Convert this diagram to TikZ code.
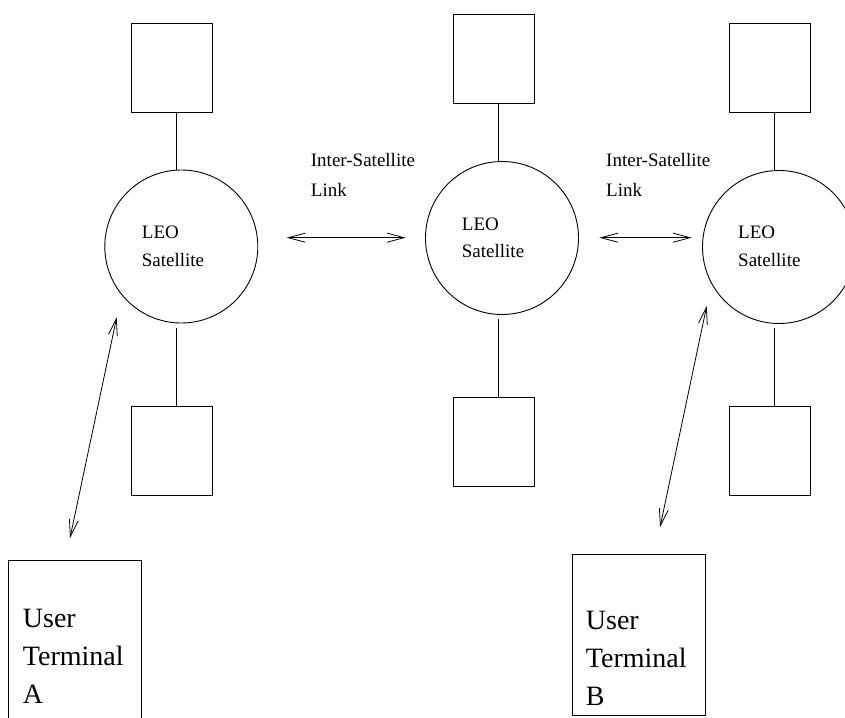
\documentclass[tikz,border=0pt]{standalone}
\usepackage{fontspec}
\setmainfont{Liberation Serif}
\usetikzlibrary{arrows.meta}
\begin{document}
\begin{tikzpicture}[x=1pt,y=-1pt,
  sbox/.style={draw,line width=0.9pt,minimum width=81pt,minimum height=89pt,inner sep=0pt,outer sep=0pt},
  sat/.style={draw,circle,line width=0.9pt,minimum size=153pt,inner sep=0pt,outer sep=0pt},
  conn/.style={line width=0.9pt},
  biarrow/.style={line width=0.8pt,{Straight Barb[length=17pt,width=9pt,line width=0.8pt]}-{Straight Barb[length=17pt,width=9pt,line width=0.8pt]}},
  lbl/.style={anchor=base west,inner sep=0pt,font=\fontsize{19}{29}\selectfont},
  tlbl/.style={anchor=base west,inner sep=0pt,font=\fontsize{28}{37}\selectfont}]
\useasboundingbox (0,0) rectangle (845,717);
\clip (0,0) rectangle (845,717);
% satellites
\node[sat] (s1) at (181.3,246.5) {};
\node[sat] (s2) at (502,238) {};
\node[sat] (s3) at (779,247) {};
% boxes
\node[sbox] (t1) at (172.2,67.7) {};
\node[sbox] (b1) at (172.3,451.4) {};
\node[sbox] (t2) at (493.7,58.5) {};
\node[sbox] (b2) at (493.7,442.2) {};
\node[sbox] (t3) at (770.3,68) {};
\node[sbox] (b3) at (770.3,451.4) {};
% box-satellite links
\draw[conn] ([xshift=4.5pt]t1.south) -- ([xshift=4.5pt]t1.south |- s1.north);
\draw[conn] ([xshift=4.5pt]t2.south) -- ([xshift=4.5pt]t2.south |- s2.north);
\draw[conn] ([xshift=4.5pt]t3.south) -- ([xshift=4.5pt]t3.south |- s3.north);
\draw[conn,shorten >=4.5pt] ([xshift=4.5pt]b1.north) -- ([xshift=4.5pt]b1.north |- s1.south);
\draw[conn,shorten >=4.5pt] ([xshift=4.5pt]b2.north) -- ([xshift=4.5pt]b2.north |- s2.south);
\draw[conn,shorten >=4.5pt] ([xshift=4.5pt]b3.north) -- ([xshift=4.5pt]b3.north |- s3.south);
% satellite labels
\node[lbl] (l1a) at (141.7,238.7) {LEO};
\node[lbl] (l1b) at (141.7,266.7) {Satellite};
\node[lbl] (l2a) at (461.7,230) {LEO};
\node[lbl] (l2b) at (461.7,257.7) {Satellite};
\node[lbl] (l3a) at (738,238.3) {LEO};
\node[lbl] (l3b) at (738,266) {Satellite};
% inter-satellite links
\node[lbl] (i1a) at (310.7,166.7) {Inter-Satellite};
\node[lbl] (i1b) at (310.7,196) {Link};
\node[lbl] (i2a) at (606,166.7) {Inter-Satellite};
\node[lbl] (i2b) at (606,196) {Link};
\coordinate (h1a) at (286.7,237.7);
\coordinate (h1b) at (405.7,237.7);
\coordinate (h2a) at (599.3,237.7);
\coordinate (h2b) at (691.7,237.7);
\draw[biarrow] (h1a) -- (h1b);
\draw[biarrow] (h2a) -- (h2b);
% user terminals
\node[draw,line width=0.9pt,inner sep=0pt,minimum width=132.6pt,minimum height=180pt] (ua) at (75,650.7) {};
\node[draw,line width=0.9pt,inner sep=0pt,minimum width=132.6pt,minimum height=161.4pt] (ub) at (639,635) {};
\node[tlbl] (ua1) at (22.7,627.7) {User};
\node[tlbl] (ua2) at (22.7,665.7) {Terminal};
\node[tlbl] (ua3) at (22.7,703) {A};
\node[tlbl] (ub1) at (585.7,629) {User};
\node[tlbl] (ub2) at (585.7,667) {Terminal};
\node[tlbl] (ub3) at (585.7,705.7) {B};
% up/down links
\coordinate (d1a) at (116.7,317.3);
\coordinate (d1b) at (70,538);
\coordinate (d2a) at (706.7,306);
\coordinate (d2b) at (660,527.3);
\draw[biarrow] (d1a) -- (d1b);
\draw[biarrow] (d2a) -- (d2b);
\end{tikzpicture}
\end{document}
